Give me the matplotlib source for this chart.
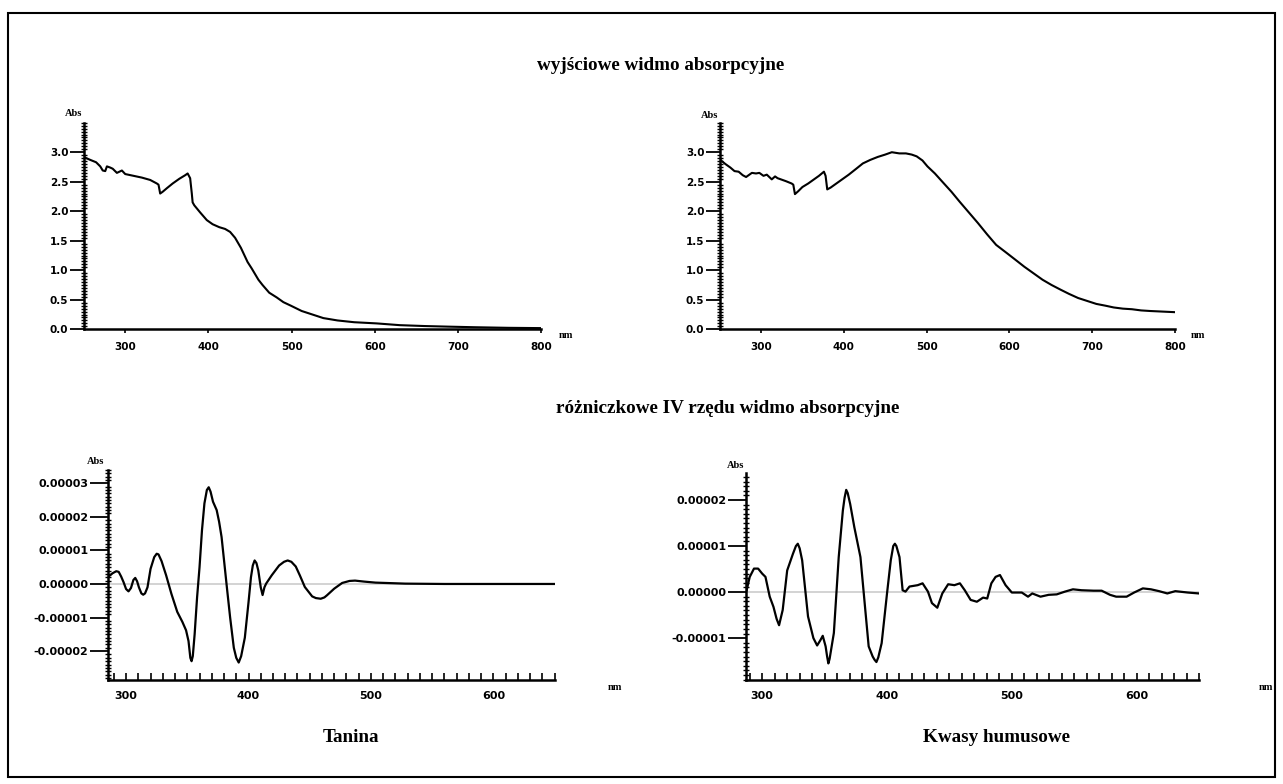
import matplotlib
matplotlib.use("Agg")
import matplotlib.pyplot as plt
import numpy as np
from matplotlib.ticker import MultipleLocator, FuncFormatter, FixedLocator
from matplotlib.patches import Rectangle

# ---------------- data ----------------
# original absorption spectra
tan_nm = [250, 258, 265, 270, 273, 276, 278, 282, 285, 290, 293, 296, 300, 310, 320, 330,
          338, 340, 342, 345, 350, 357, 365, 372, 375, 378, 380, 381, 383, 390, 398, 405,
          413, 420, 426, 432, 439, 447, 452, 460, 465, 473, 482, 490, 499, 512, 525, 538,
          555, 575, 602, 630, 660, 688, 720, 760, 800]
tan_abs = [2.92, 2.87, 2.83, 2.76, 2.69, 2.68, 2.76, 2.74, 2.72, 2.65, 2.67, 2.69, 2.63, 2.60, 2.57, 2.53,
           2.47, 2.45, 2.30, 2.33, 2.39, 2.47, 2.55, 2.61, 2.64, 2.56, 2.30, 2.15, 2.10, 1.98, 1.85, 1.78,
           1.73, 1.70, 1.65, 1.55, 1.38, 1.14, 1.03, 0.84, 0.75, 0.62, 0.54, 0.46, 0.40, 0.31, 0.25, 0.19,
           0.15, 0.12, 0.10, 0.07, 0.055, 0.045, 0.035, 0.025, 0.02]

hum_nm = [250, 257, 263, 268, 273, 278, 282, 289, 294, 298, 303, 307, 313, 317, 320, 324, 330,
          337, 339, 341, 345, 350, 357, 363, 370, 376, 378, 380, 384, 389, 397, 406, 415,
          423, 432, 441, 450, 458, 467, 475, 482, 488, 495, 501, 510, 519, 530, 540, 551,
          562, 573, 584, 597, 608, 618, 629, 640, 651, 662, 672, 683, 694, 705, 716, 726,
          737, 748, 759, 770, 785, 800]
hum_abs = [2.88, 2.80, 2.74, 2.68, 2.67, 2.61, 2.58, 2.65, 2.64, 2.65, 2.60, 2.62, 2.54, 2.59, 2.56, 2.54, 2.51,
           2.47, 2.45, 2.29, 2.34, 2.41, 2.47, 2.53, 2.60, 2.67, 2.60, 2.37, 2.40, 2.45, 2.53, 2.62, 2.72,
           2.81, 2.87, 2.92, 2.96, 3.00, 2.98, 2.98, 2.96, 2.93, 2.86, 2.76, 2.64, 2.50, 2.33, 2.16, 1.98,
           1.80, 1.61, 1.43, 1.29, 1.17, 1.06, 0.95, 0.84, 0.75, 0.67, 0.60, 0.53, 0.48, 0.43, 0.40, 0.37,
           0.35, 0.34, 0.32, 0.31, 0.30, 0.29]

# fourth-derivative spectra, values in units of 1e-5 Abs
tan_d4_nm = [285, 287, 289, 292, 294, 296, 298, 300, 302, 304, 306, 307.5, 309, 310.5, 312.5, 314,
             315.5, 317.5, 320, 323, 325, 326.5, 329, 332.7, 337, 341.8, 346, 349, 351, 352.5,
             353.5, 354.5, 356, 358, 360, 362, 364, 366, 367.5, 369, 371, 374, 376, 378, 382.6,
             385, 388, 390, 392, 394, 397, 400, 402, 403.5, 405, 406.5, 408, 410, 411.5, 413,
             414.4, 419, 425, 429, 432, 435, 438.6, 442, 446, 452, 455, 459, 462, 464, 470,
             476.5, 482.5, 487, 494.6, 503.7, 528, 560, 600, 650]
tan_d4 = [0.21, 0.26, 0.32, 0.38, 0.36, 0.22, 0.05, -0.15, -0.22, -0.12, 0.12, 0.18, 0.08, -0.10, -0.28, -0.32,
          -0.28, -0.10, 0.45, 0.80, 0.90, 0.88, 0.68, 0.26, -0.29, -0.83, -1.13, -1.38, -1.70, -2.20,
          -2.30, -2.15, -1.50, -0.40, 0.50, 1.60, 2.40, 2.80, 2.88, 2.75, 2.45, 2.20, 1.85, 1.40, -0.19,
          -1.00, -1.90, -2.20, -2.34, -2.15, -1.60, -0.55, 0.20, 0.55, 0.70, 0.62, 0.40, -0.10, -0.33, -0.10,
          0.01, 0.26, 0.55, 0.66, 0.70, 0.66, 0.52, 0.25, -0.09, -0.37, -0.42, -0.44, -0.40, -0.34, -0.14,
          0.03, 0.09, 0.10, 0.07, 0.04, 0.01, 0.0, 0.0, 0.0]

hum_d4_nm = [287.5, 290, 293.4, 296.7, 300, 302.6, 306, 309, 311.5, 313.5, 316.4, 320, 324.6, 327, 328.5,
             330, 332, 336.7, 341, 344, 346.5, 348.5, 350.8, 352, 353, 354, 357.4, 361.3, 364.6, 366,
             367.3, 368.5, 370.5, 373.8, 378.7, 382.6, 385.3, 388.5, 390, 391.5, 393, 395.7, 400, 403,
             405, 406.3, 407.5, 410, 412.5, 414.8, 418, 424.6, 428.5, 432.8, 436, 440.3, 444.3, 449,
             454, 458.4, 462.3, 467, 472, 477, 480.3, 483.6, 487, 490.5, 495, 500, 508, 513, 516.4,
             523, 529.5, 536, 542.6, 549, 555.8, 565.6, 572, 578.7, 583.6, 592, 598, 605, 611.5, 618,
             624.6, 631, 641, 650]
hum_d4 = [0.04, 0.33, 0.51, 0.51, 0.40, 0.33, -0.10, -0.32, -0.58, -0.72, -0.39, 0.47, 0.83, 1.00, 1.05,
          0.95, 0.69, -0.53, -1.00, -1.16, -1.05, -0.95, -1.18, -1.40, -1.55, -1.45, -0.89, 0.76, 1.77, 2.05,
          2.22, 2.15, 1.91, 1.41, 0.76, -0.39, -1.18, -1.40, -1.47, -1.52, -1.42, -1.11, -0.03, 0.69,
          1.00, 1.05, 1.00, 0.76, 0.04, 0.01, 0.12, 0.15, 0.19, 0.01, -0.24, -0.34, -0.03, 0.17,
          0.15, 0.19, 0.04, -0.17, -0.21, -0.12, -0.14, 0.19, 0.33, 0.37, 0.15, -0.01, -0.01, -0.10,
          -0.03, -0.10, -0.06, -0.05, 0.01, 0.06, 0.04, 0.03, 0.03, -0.06, -0.10, -0.10, -0.01, 0.08,
          0.06, 0.02, -0.03, 0.02, -0.01, -0.03]

top_yticks = [0.0, 0.5, 1.0, 1.5, 2.0, 2.5, 3.0]
top_xticks = [300, 400, 500, 600, 700, 800]
bl_yticks = [-0.00002, -0.00001, 0.0, 0.00001, 0.00002, 0.00003]
br_yticks = [-0.00001, 0.0, 0.00001, 0.00002]
bot_xticks = [300, 400, 500, 600]

title_top = "wyjściowe widmo absorpcyjne"
title_bottom = "różniczkowe IV rzędu widmo absorpcyjne"
label_left = "Tanina"
label_right = "Kwasy humusowe"

# ---------------- layout ----------------
W, H = 1283, 784
fig = plt.figure(figsize=(W / 100, H / 100), dpi=100)

def ax_px(x0, x1, ytop, ybot):
    return fig.add_axes([x0 / W, 1 - ybot / H, (x1 - x0) / W, (ybot - ytop) / H])

def ftext(x, y, s, **kw):
    fig.text(x / W, 1 - y / H, s, **kw)

serif = "Liberation Serif"

def style(ax, ymaj_len, ylabsize):
    for sp in ("top", "right"):
        ax.spines[sp].set_visible(False)
    for sp in ("left", "bottom"):
        ax.spines[sp].set_linewidth(1.8)
    ax.tick_params(axis="y", which="major", direction="out", length=ymaj_len, width=1.3,
                   pad=1, labelsize=ylabsize)
    ax.tick_params(axis="y", which="minor", direction="inout", length=5, width=1.0)
    for lab in ax.get_yticklabels() + ax.get_xticklabels():
        lab.set_fontfamily("DejaVu Sans")
        lab.set_fontweight("bold")

# top-left
ax1 = ax_px(83.6, 541.4, 122.7, 329.3)
ax1.plot(tan_nm, tan_abs, color="black", lw=1.5)
# top-right
ax2 = ax_px(719.6, 1175, 122.7, 329.3)
ax2.plot(hum_nm, hum_abs, color="black", lw=1.5)
for ax in (ax1, ax2):
    ax.set_xlim(250, 800)
    ax.set_ylim(0, 3.5)
    ax.yaxis.set_major_locator(FixedLocator(top_yticks))
    ax.yaxis.set_minor_locator(MultipleLocator(0.05))
    ax.yaxis.set_major_formatter(FuncFormatter(lambda v, p: f"{v:.1f}"))
    ax.xaxis.set_major_locator(FixedLocator(top_xticks))
    ax.tick_params(axis="x", which="major", direction="out", length=3, width=1.2, pad=6, labelsize=7.5)
    style(ax, 10, 7.5)

def d4fmt(v, p):
    s = f"{v:.5f}"
    if s == "-0.00000":
        s = "0.00000"
    return s

scale = 1e-5
# bottom-left
ax3 = ax_px(107.7, 554.6, 469.8, 680)
ax3.axhline(0, color="#cccccc", lw=1.2, zorder=1)
ax3.plot(tan_d4_nm, np.array(tan_d4) * scale, color="black", lw=1.6, zorder=2)
ax3.set_ylim(-2.86e-5, 3.4e-5)
ax3.yaxis.set_major_locator(FixedLocator(bl_yticks))
# bottom-right
ax4 = ax_px(746, 1199, 473.3, 680)
ax4.axhline(0, color="#cccccc", lw=1.2, zorder=1)
ax4.plot(hum_d4_nm, np.array(hum_d4) * scale, color="black", lw=1.6, zorder=2)
ax4.set_ylim(-1.91e-5, 2.58e-5)
ax4.yaxis.set_major_locator(FixedLocator(br_yticks))
for ax, x0 in ((ax3, 285), (ax4, 287)):
    ax.set_xlim(x0, 650)
    ax.yaxis.set_minor_locator(MultipleLocator(1e-6))
    ax.yaxis.set_major_formatter(FuncFormatter(d4fmt))
    ax.xaxis.set_major_locator(FixedLocator(bot_xticks))
    ax.xaxis.set_minor_locator(MultipleLocator(10))
    ax.tick_params(axis="x", which="both", direction="in", length=5, width=1.2, pad=8, labelsize=8)
    style(ax, 13, 8)

# axis unit labels
lab_kw = dict(family=serif, weight="bold", fontsize=7.5)
ftext(82, 114, "Abs", ha="right", va="center", **lab_kw)
ftext(718, 115, "Abs", ha="right", va="center", **lab_kw)
ftext(104, 461, "Abs", ha="right", va="center", **lab_kw)
ftext(744, 466, "Abs", ha="right", va="center", **lab_kw)
ftext(566, 336, "nm", ha="center", va="center", **lab_kw)
ftext(1198, 336, "nm", ha="center", va="center", **lab_kw)
ftext(615, 688, "nm", ha="center", va="center", **lab_kw)
ftext(1266, 688, "nm", ha="center", va="center", **lab_kw)

# titles
tkw = dict(ha="center", va="center", family=serif, weight="bold", fontsize=13.8)
ftext(661, 65, title_top, **tkw)
ftext(728, 409, title_bottom, **tkw)
ftext(351, 738, label_left, **tkw)
ftext(996, 738, label_right, **tkw)

# outer frame
fig.patches.append(Rectangle((8 / W, 1 - 777 / H), (1275 - 8) / W, (777 - 13) / H,
                             transform=fig.transFigure, fill=False, lw=1.5, ec="black"))

fig.savefig("out.png", dpi=100)
